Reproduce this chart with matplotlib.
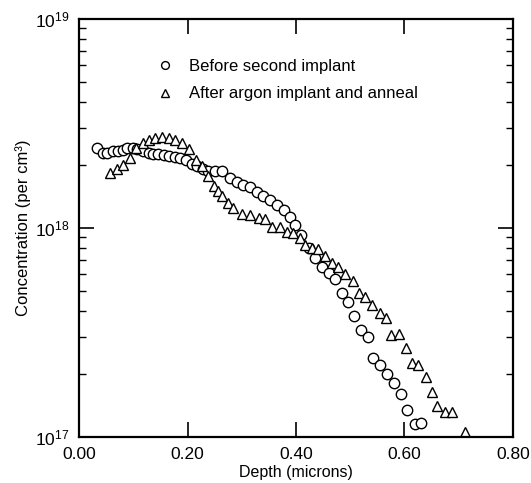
import numpy as np
import matplotlib
matplotlib.use("Agg")
from matplotlib import pyplot as plt
from matplotlib.ticker import FixedLocator, FixedFormatter, LogLocator, NullFormatter

plt.rcParams['font.family'] = ['Liberation Sans', 'DejaVu Sans']
plt.rcParams['mathtext.fontset'] = 'custom'
plt.rcParams['mathtext.rm'] = 'Liberation Sans'
plt.rcParams['mathtext.it'] = 'Liberation Sans'

# before second implant (circles): depth in microns, concentration per cm3
before_depth = [0.033, 0.044, 0.052, 0.062, 0.071, 0.081, 0.089, 0.099, 0.107, 0.117,
                0.128, 0.137, 0.146, 0.157, 0.166, 0.177, 0.186, 0.197, 0.208, 0.217,
                0.228, 0.238, 0.251, 0.263, 0.278, 0.291, 0.303, 0.315, 0.328, 0.340,
                0.352, 0.364, 0.377, 0.389, 0.398, 0.410, 0.423, 0.435, 0.447, 0.460,
                0.472, 0.484, 0.496, 0.507, 0.520, 0.533, 0.542, 0.555, 0.568, 0.581,
                0.594, 0.605, 0.619, 0.630]
before_conc = [2.41e18, 2.28e18, 2.29e18, 2.32e18, 2.34e18, 2.36e18, 2.40e18, 2.41e18, 2.39e18, 2.32e18,
               2.28e18, 2.26e18, 2.25e18, 2.23e18, 2.21e18, 2.18e18, 2.15e18, 2.11e18, 2.02e18, 1.98e18,
               1.91e18, 1.88e18, 1.87e18, 1.88e18, 1.73e18, 1.65e18, 1.61e18, 1.57e18, 1.49e18, 1.42e18,
               1.36e18, 1.29e18, 1.22e18, 1.13e18, 1.03e18, 9.2e17, 8.0e17, 7.2e17, 6.5e17, 6.1e17,
               5.7e17, 4.9e17, 4.4e17, 3.8e17, 3.25e17, 3.0e17, 2.4e17, 2.2e17, 2.0e17, 1.82e17,
               1.61e17, 1.34e17, 1.16e17, 1.17e17]

# after argon implant and anneal (triangles)
after_depth = [0.057, 0.069, 0.081, 0.094, 0.105, 0.117, 0.128, 0.140, 0.152, 0.165,
               0.177, 0.189, 0.203, 0.216, 0.226, 0.237, 0.248, 0.256, 0.263, 0.274,
               0.284, 0.300, 0.315, 0.331, 0.343, 0.355, 0.371, 0.383, 0.395, 0.407,
               0.417, 0.429, 0.441, 0.453, 0.466, 0.478, 0.490, 0.505, 0.517, 0.527,
               0.540, 0.554, 0.566, 0.576, 0.590, 0.603, 0.613, 0.625, 0.639, 0.650,
               0.660, 0.675, 0.687, 0.712]
after_conc = [1.83e18, 1.91e18, 2.00e18, 2.15e18, 2.41e18, 2.54e18, 2.64e18, 2.69e18, 2.73e18, 2.69e18,
              2.62e18, 2.56e18, 2.38e18, 2.11e18, 1.98e18, 1.78e18, 1.59e18, 1.50e18, 1.42e18, 1.32e18,
              1.24e18, 1.17e18, 1.15e18, 1.12e18, 1.10e18, 1.01e18, 1.01e18, 9.6e17, 9.4e17, 8.9e17,
              8.3e17, 8.0e17, 7.9e17, 7.3e17, 6.8e17, 6.5e17, 6.0e17, 5.6e17, 4.9e17, 4.66e17,
              4.29e17, 3.91e17, 3.70e17, 3.08e17, 3.11e17, 2.66e17, 2.26e17, 2.21e17, 1.93e17, 1.64e17,
              1.41e17, 1.31e17, 1.31e17, 1.06e17]

xticks = [0.0, 0.2, 0.4, 0.6, 0.8]
xtick_labels = ["0.00", "0.20", "0.40", "0.60", "0.80"]
yticks = [1e17, 1e18, 1e19]
ytick_labels = [r"$10^{17}$", r"$10^{18}$", r"$10^{19}$"]

fig = plt.figure(figsize=(5.31, 4.83), dpi=100)
ax = fig.add_axes([0.149, 0.0952, 0.817, 0.866])

ax.plot(before_depth, before_conc, linestyle='none', marker='o', ms=7.5,
        mfc='white', mec='black', mew=1.0, label="Before second implant")
ax.plot(after_depth, after_conc, linestyle='none', marker='^', ms=7.5,
        mfc='white', mec='black', mew=1.0, label="After argon implant and anneal")

ax.set_yscale('log')
ax.set_xlim(0, 0.8)
ax.set_ylim(1e17, 1e19)

ax.xaxis.set_major_locator(FixedLocator(xticks))
ax.xaxis.set_major_formatter(FixedFormatter(xtick_labels))
ax.yaxis.set_major_locator(FixedLocator(yticks))
ax.yaxis.set_major_formatter(FixedFormatter(ytick_labels))
ax.yaxis.set_minor_locator(LogLocator(base=10, subs=np.arange(2, 10)))
ax.yaxis.set_minor_formatter(NullFormatter())

ax.tick_params(which='major', direction='in', length=11, width=1.2,
               top=True, right=True, labelsize=12.5, pad=7)
ax.tick_params(which='minor', direction='in', length=5, width=1.0,
               left=True, right=True)
for s in ax.spines.values():
    s.set_linewidth(1.6)

ax.set_xlabel("Depth (microns)", fontsize=11.5, labelpad=2)
ax.set_ylabel("Concentration (per cm³)", fontsize=12, labelpad=3)

leg = ax.legend(loc='upper left', bbox_to_anchor=(0.141, 0.94), frameon=False,
                fontsize=12, markerscale=0.75, handletextpad=0.85, labelspacing=0.75,
                handlelength=1.2)

fig.savefig("out.png", dpi=100)
